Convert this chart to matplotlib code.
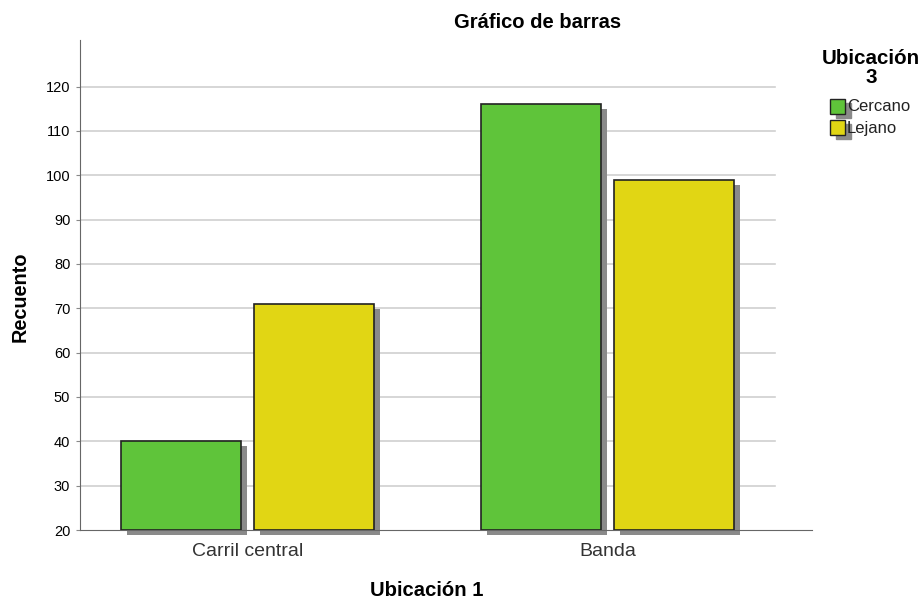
import numpy as np
import matplotlib.pyplot as plt
from matplotlib.patches import Rectangle

plt.rcParams['font.family'] = ['Liberation Sans', 'DejaVu Sans']

# data
categories = ["Carril central", "Banda"]
series = ["Cercano", "Lejano"]
cercano = [40, 116]
lejano = [71, 99]
colors = ["#5fc43a", "#e1d614"]
shadow = "#8a8a8a"
base = 20

fig = plt.figure(figsize=(9.23, 5.99), dpi=100)
ax = fig.add_axes([80 / 923, 69 / 599, 732 / 923, 490 / 599])

x = np.arange(len(categories))
w = 0.333
off = 0.185
dx, dy = 0.017, 1.15

for vals, o, c in [(cercano, -off, colors[0]), (lejano, off, colors[1])]:
    v = np.array(vals) - base
    ax.bar(x + o + dx, v, w, bottom=base - dy, color=shadow, zorder=2, clip_on=False)
    ax.bar(x + o, v, w, bottom=base, color=c, edgecolor="#222222", linewidth=1.2, zorder=3)

ax.set_xlim(-0.465, 1.568)
ax.set_ylim(20, 130.5)
ax.set_yticks(np.arange(20, 121, 10))
xmax_frac = (1.465 + 0.465) / (1.568 + 0.465)
for yv in np.arange(30, 121, 10):
    ax.axhline(yv, xmin=0, xmax=xmax_frac, color="#d0d0d0", linewidth=1.2, zorder=1)

ax.set_xticks(x)
ax.set_xticklabels(categories, fontsize=14, color="#333333")
ax.tick_params(axis="x", length=0, pad=9)
ax.tick_params(axis="y", length=3, color="#888888", labelsize=10.5, pad=4)

for s in ["top", "right"]:
    ax.spines[s].set_visible(False)
ax.spines["left"].set_color("#666666")
ax.spines["bottom"].set_color("#666666")

fig.text(538 / 923, 1 - 22 / 599, "Gráfico de barras", ha="center", va="center",
         fontsize=14.5, fontweight="bold")
fig.text(20 / 923, 1 - 297 / 599, "Recuento", ha="center", va="center",
         rotation=90, fontsize=14.3, fontweight="bold")
fig.text(427 / 923, 1 - 590 / 599, "Ubicación 1", ha="center", va="center",
         fontsize=14.6, fontweight="bold")

# legend
fig.text(871 / 923, 1 - 68 / 599, "Ubicación\n3", ha="center", va="center",
         fontsize=14.8, fontweight="bold", linespacing=1.05)
for i, (name, c) in enumerate(zip(series, colors)):
    ytop = 99 + i * 21
    fig.patches.append(Rectangle((836 / 923, 1 - (ytop + 19) / 599), 15 / 923, 15 / 599,
                                 color=shadow, transform=fig.transFigure, figure=fig))
    fig.patches.append(Rectangle((830 / 923, 1 - (ytop + 15) / 599), 15 / 923, 15 / 599,
                                 facecolor=c, edgecolor="#222222", linewidth=1,
                                 transform=fig.transFigure, figure=fig))
    fig.text(847 / 923, 1 - (ytop + 8) / 599, name, ha="left", va="center",
             fontsize=12, color="#222222")

fig.savefig("out.png", dpi=100)
